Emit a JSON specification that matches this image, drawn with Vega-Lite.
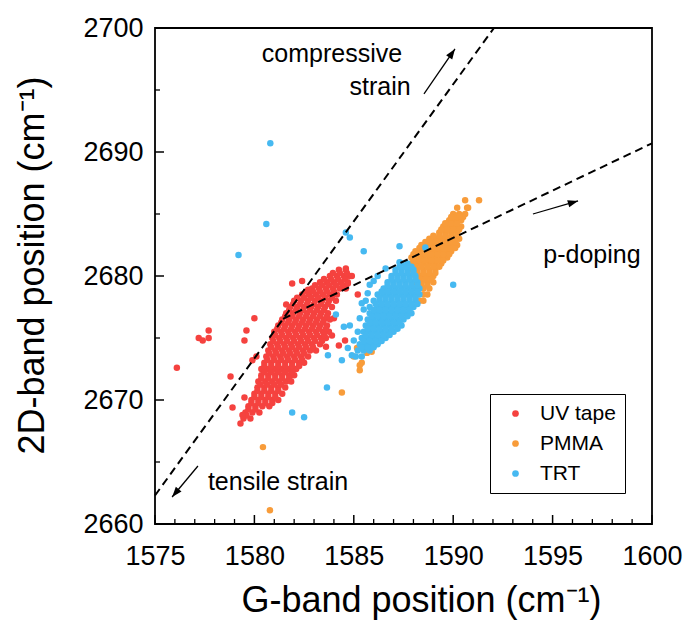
{
  "$schema": "https://vega.github.io/schema/vega-lite/v6.json",
  "width": 497,
  "height": 496,
  "autosize": "none",
  "padding": {"left": 155, "top": 28, "right": 35, "bottom": 98},
  "background": "white",
  "config": {
    "font": "Liberation Sans",
    "view": {"stroke": "black", "strokeWidth": 1.8},
    "axis": {"grid": false}
  },
  "datasets": {
    "pts": [
      {"g":1579.45,"d":2668.5,"s":"UV tape"},{"g":1579.8,"d":2668.5,"s":"UV tape"},
      {"g":1579.55,"d":2669.0,"s":"UV tape"},{"g":1579.9,"d":2669.0,"s":"UV tape"},{"g":1580.25,"d":2669.0,"s":"UV tape"},
      {"g":1579.7,"d":2669.5,"s":"UV tape"},{"g":1580.05,"d":2669.5,"s":"UV tape"},{"g":1580.4,"d":2669.5,"s":"UV tape"},{"g":1580.75,"d":2669.5,"s":"UV tape"},
      {"g":1579.85,"d":2670.0,"s":"UV tape"},{"g":1580.2,"d":2670.0,"s":"UV tape"},{"g":1580.55,"d":2670.0,"s":"UV tape"},{"g":1580.9,"d":2670.0,"s":"UV tape"},{"g":1581.2,"d":2670.0,"s":"UV tape"},
      {"g":1580.0,"d":2670.5,"s":"UV tape"},{"g":1580.35,"d":2670.5,"s":"UV tape"},{"g":1580.7,"d":2670.5,"s":"UV tape"},{"g":1581.05,"d":2670.5,"s":"UV tape"},{"g":1581.4,"d":2670.5,"s":"UV tape"},
      {"g":1580.15,"d":2671.0,"s":"UV tape"},{"g":1580.5,"d":2671.0,"s":"UV tape"},{"g":1580.85,"d":2671.0,"s":"UV tape"},{"g":1581.2,"d":2671.0,"s":"UV tape"},{"g":1581.55,"d":2671.0,"s":"UV tape"},
      {"g":1580.2,"d":2671.5,"s":"UV tape"},{"g":1580.55,"d":2671.5,"s":"UV tape"},{"g":1580.9,"d":2671.5,"s":"UV tape"},{"g":1581.25,"d":2671.5,"s":"UV tape"},{"g":1581.6,"d":2671.5,"s":"UV tape"},{"g":1581.85,"d":2671.5,"s":"UV tape"},
      {"g":1580.35,"d":2672.0,"s":"UV tape"},{"g":1580.7,"d":2672.0,"s":"UV tape"},{"g":1581.05,"d":2672.0,"s":"UV tape"},{"g":1581.4,"d":2672.0,"s":"UV tape"},{"g":1581.75,"d":2672.0,"s":"UV tape"},{"g":1582.0,"d":2672.0,"s":"UV tape"},
      {"g":1580.35,"d":2672.5,"s":"UV tape"},{"g":1580.7,"d":2672.5,"s":"UV tape"},{"g":1581.05,"d":2672.5,"s":"UV tape"},{"g":1581.4,"d":2672.5,"s":"UV tape"},{"g":1581.75,"d":2672.5,"s":"UV tape"},{"g":1582.1,"d":2672.5,"s":"UV tape"},
      {"g":1580.5,"d":2673.0,"s":"UV tape"},{"g":1580.85,"d":2673.0,"s":"UV tape"},{"g":1581.2,"d":2673.0,"s":"UV tape"},{"g":1581.55,"d":2673.0,"s":"UV tape"},{"g":1581.9,"d":2673.0,"s":"UV tape"},{"g":1582.25,"d":2673.0,"s":"UV tape"},{"g":1582.5,"d":2673.0,"s":"UV tape"},
      {"g":1580.6,"d":2673.5,"s":"UV tape"},{"g":1580.95,"d":2673.5,"s":"UV tape"},{"g":1581.3,"d":2673.5,"s":"UV tape"},{"g":1581.65,"d":2673.5,"s":"UV tape"},{"g":1582.0,"d":2673.5,"s":"UV tape"},{"g":1582.35,"d":2673.5,"s":"UV tape"},{"g":1582.7,"d":2673.5,"s":"UV tape"},
      {"g":1580.7,"d":2674.0,"s":"UV tape"},{"g":1581.05,"d":2674.0,"s":"UV tape"},{"g":1581.4,"d":2674.0,"s":"UV tape"},{"g":1581.75,"d":2674.0,"s":"UV tape"},{"g":1582.1,"d":2674.0,"s":"UV tape"},{"g":1582.45,"d":2674.0,"s":"UV tape"},{"g":1582.8,"d":2674.0,"s":"UV tape"},{"g":1583.1,"d":2674.0,"s":"UV tape"},
      {"g":1580.8,"d":2674.5,"s":"UV tape"},{"g":1581.15,"d":2674.5,"s":"UV tape"},{"g":1581.5,"d":2674.5,"s":"UV tape"},{"g":1581.85,"d":2674.5,"s":"UV tape"},{"g":1582.2,"d":2674.5,"s":"UV tape"},{"g":1582.55,"d":2674.5,"s":"UV tape"},{"g":1582.9,"d":2674.5,"s":"UV tape"},{"g":1583.3,"d":2674.5,"s":"UV tape"},
      {"g":1580.9,"d":2675.0,"s":"UV tape"},{"g":1581.25,"d":2675.0,"s":"UV tape"},{"g":1581.6,"d":2675.0,"s":"UV tape"},{"g":1581.95,"d":2675.0,"s":"UV tape"},{"g":1582.3,"d":2675.0,"s":"UV tape"},{"g":1582.65,"d":2675.0,"s":"UV tape"},{"g":1583.0,"d":2675.0,"s":"UV tape"},{"g":1583.35,"d":2675.0,"s":"UV tape"},{"g":1583.6,"d":2675.0,"s":"UV tape"},
      {"g":1581.0,"d":2675.5,"s":"UV tape"},{"g":1581.35,"d":2675.5,"s":"UV tape"},{"g":1581.7,"d":2675.5,"s":"UV tape"},{"g":1582.05,"d":2675.5,"s":"UV tape"},{"g":1582.4,"d":2675.5,"s":"UV tape"},{"g":1582.75,"d":2675.5,"s":"UV tape"},{"g":1583.1,"d":2675.5,"s":"UV tape"},{"g":1583.45,"d":2675.5,"s":"UV tape"},{"g":1583.75,"d":2675.5,"s":"UV tape"},
      {"g":1581.2,"d":2676.0,"s":"UV tape"},{"g":1581.55,"d":2676.0,"s":"UV tape"},{"g":1581.9,"d":2676.0,"s":"UV tape"},{"g":1582.25,"d":2676.0,"s":"UV tape"},{"g":1582.6,"d":2676.0,"s":"UV tape"},{"g":1582.95,"d":2676.0,"s":"UV tape"},{"g":1583.3,"d":2676.0,"s":"UV tape"},{"g":1583.65,"d":2676.0,"s":"UV tape"},
      {"g":1581.4,"d":2676.5,"s":"UV tape"},{"g":1581.75,"d":2676.5,"s":"UV tape"},{"g":1582.1,"d":2676.5,"s":"UV tape"},{"g":1582.45,"d":2676.5,"s":"UV tape"},{"g":1582.8,"d":2676.5,"s":"UV tape"},{"g":1583.15,"d":2676.5,"s":"UV tape"},{"g":1583.5,"d":2676.5,"s":"UV tape"},{"g":1583.8,"d":2676.5,"s":"UV tape"},
      {"g":1581.6,"d":2677.0,"s":"UV tape"},{"g":1581.95,"d":2677.0,"s":"UV tape"},{"g":1582.3,"d":2677.0,"s":"UV tape"},{"g":1582.65,"d":2677.0,"s":"UV tape"},{"g":1583.0,"d":2677.0,"s":"UV tape"},{"g":1583.35,"d":2677.0,"s":"UV tape"},{"g":1583.7,"d":2677.0,"s":"UV tape"},
      {"g":1581.8,"d":2677.5,"s":"UV tape"},{"g":1582.15,"d":2677.5,"s":"UV tape"},{"g":1582.5,"d":2677.5,"s":"UV tape"},{"g":1582.85,"d":2677.5,"s":"UV tape"},{"g":1583.2,"d":2677.5,"s":"UV tape"},{"g":1583.55,"d":2677.5,"s":"UV tape"},{"g":1583.9,"d":2677.5,"s":"UV tape"},
      {"g":1582.0,"d":2678.0,"s":"UV tape"},{"g":1582.35,"d":2678.0,"s":"UV tape"},{"g":1582.7,"d":2678.0,"s":"UV tape"},{"g":1583.05,"d":2678.0,"s":"UV tape"},{"g":1583.4,"d":2678.0,"s":"UV tape"},{"g":1583.75,"d":2678.0,"s":"UV tape"},{"g":1584.1,"d":2678.0,"s":"UV tape"},
      {"g":1582.4,"d":2678.5,"s":"UV tape"},{"g":1582.75,"d":2678.5,"s":"UV tape"},{"g":1583.1,"d":2678.5,"s":"UV tape"},{"g":1583.45,"d":2678.5,"s":"UV tape"},{"g":1583.8,"d":2678.5,"s":"UV tape"},{"g":1584.15,"d":2678.5,"s":"UV tape"},
      {"g":1582.9,"d":2679.0,"s":"UV tape"},{"g":1583.25,"d":2679.0,"s":"UV tape"},{"g":1583.6,"d":2679.0,"s":"UV tape"},{"g":1583.95,"d":2679.0,"s":"UV tape"},{"g":1584.3,"d":2679.0,"s":"UV tape"},{"g":1584.6,"d":2679.0,"s":"UV tape"},
      {"g":1583.3,"d":2679.5,"s":"UV tape"},{"g":1583.65,"d":2679.5,"s":"UV tape"},{"g":1584.0,"d":2679.5,"s":"UV tape"},{"g":1584.35,"d":2679.5,"s":"UV tape"},{"g":1584.7,"d":2679.5,"s":"UV tape"},
      {"g":1583.8,"d":2680.0,"s":"UV tape"},{"g":1584.15,"d":2680.0,"s":"UV tape"},{"g":1584.5,"d":2680.0,"s":"UV tape"},{"g":1584.8,"d":2680.0,"s":"UV tape"},
      {"g":1584.25,"d":2680.5,"s":"UV tape"},{"g":1584.6,"d":2680.5,"s":"UV tape"},
      {"g":1579.6,"d":2668.75,"s":"UV tape"},
      {"g":1579.7,"d":2669.25,"s":"UV tape"},{"g":1580.05,"d":2669.25,"s":"UV tape"},
      {"g":1579.85,"d":2669.75,"s":"UV tape"},{"g":1580.2,"d":2669.75,"s":"UV tape"},{"g":1580.55,"d":2669.75,"s":"UV tape"},{"g":1580.9,"d":2669.75,"s":"UV tape"},
      {"g":1580.0,"d":2670.25,"s":"UV tape"},{"g":1580.35,"d":2670.25,"s":"UV tape"},{"g":1580.7,"d":2670.25,"s":"UV tape"},{"g":1581.05,"d":2670.25,"s":"UV tape"},
      {"g":1580.15,"d":2670.75,"s":"UV tape"},{"g":1580.5,"d":2670.75,"s":"UV tape"},{"g":1580.85,"d":2670.75,"s":"UV tape"},{"g":1581.2,"d":2670.75,"s":"UV tape"},
      {"g":1580.3,"d":2671.25,"s":"UV tape"},{"g":1580.65,"d":2671.25,"s":"UV tape"},{"g":1581.0,"d":2671.25,"s":"UV tape"},{"g":1581.35,"d":2671.25,"s":"UV tape"},
      {"g":1580.35,"d":2671.75,"s":"UV tape"},{"g":1580.7,"d":2671.75,"s":"UV tape"},{"g":1581.05,"d":2671.75,"s":"UV tape"},{"g":1581.4,"d":2671.75,"s":"UV tape"},{"g":1581.75,"d":2671.75,"s":"UV tape"},
      {"g":1580.5,"d":2672.25,"s":"UV tape"},{"g":1580.85,"d":2672.25,"s":"UV tape"},{"g":1581.2,"d":2672.25,"s":"UV tape"},{"g":1581.55,"d":2672.25,"s":"UV tape"},{"g":1581.9,"d":2672.25,"s":"UV tape"},
      {"g":1580.5,"d":2672.75,"s":"UV tape"},{"g":1580.85,"d":2672.75,"s":"UV tape"},{"g":1581.2,"d":2672.75,"s":"UV tape"},{"g":1581.55,"d":2672.75,"s":"UV tape"},{"g":1581.9,"d":2672.75,"s":"UV tape"},{"g":1582.25,"d":2672.75,"s":"UV tape"},
      {"g":1580.65,"d":2673.25,"s":"UV tape"},{"g":1581.0,"d":2673.25,"s":"UV tape"},{"g":1581.35,"d":2673.25,"s":"UV tape"},{"g":1581.7,"d":2673.25,"s":"UV tape"},{"g":1582.05,"d":2673.25,"s":"UV tape"},{"g":1582.4,"d":2673.25,"s":"UV tape"},
      {"g":1580.75,"d":2673.75,"s":"UV tape"},{"g":1581.1,"d":2673.75,"s":"UV tape"},{"g":1581.45,"d":2673.75,"s":"UV tape"},{"g":1581.8,"d":2673.75,"s":"UV tape"},{"g":1582.15,"d":2673.75,"s":"UV tape"},{"g":1582.5,"d":2673.75,"s":"UV tape"},
      {"g":1580.85,"d":2674.25,"s":"UV tape"},{"g":1581.2,"d":2674.25,"s":"UV tape"},{"g":1581.55,"d":2674.25,"s":"UV tape"},{"g":1581.9,"d":2674.25,"s":"UV tape"},{"g":1582.25,"d":2674.25,"s":"UV tape"},{"g":1582.6,"d":2674.25,"s":"UV tape"},{"g":1582.95,"d":2674.25,"s":"UV tape"},
      {"g":1580.95,"d":2674.75,"s":"UV tape"},{"g":1581.3,"d":2674.75,"s":"UV tape"},{"g":1581.65,"d":2674.75,"s":"UV tape"},{"g":1582.0,"d":2674.75,"s":"UV tape"},{"g":1582.35,"d":2674.75,"s":"UV tape"},{"g":1582.7,"d":2674.75,"s":"UV tape"},{"g":1583.05,"d":2674.75,"s":"UV tape"},{"g":1583.4,"d":2674.75,"s":"UV tape"},
      {"g":1581.05,"d":2675.25,"s":"UV tape"},{"g":1581.4,"d":2675.25,"s":"UV tape"},{"g":1581.75,"d":2675.25,"s":"UV tape"},{"g":1582.1,"d":2675.25,"s":"UV tape"},{"g":1582.45,"d":2675.25,"s":"UV tape"},{"g":1582.8,"d":2675.25,"s":"UV tape"},{"g":1583.15,"d":2675.25,"s":"UV tape"},{"g":1583.5,"d":2675.25,"s":"UV tape"},
      {"g":1581.15,"d":2675.75,"s":"UV tape"},{"g":1581.5,"d":2675.75,"s":"UV tape"},{"g":1581.85,"d":2675.75,"s":"UV tape"},{"g":1582.2,"d":2675.75,"s":"UV tape"},{"g":1582.55,"d":2675.75,"s":"UV tape"},{"g":1582.9,"d":2675.75,"s":"UV tape"},{"g":1583.25,"d":2675.75,"s":"UV tape"},{"g":1583.6,"d":2675.75,"s":"UV tape"},
      {"g":1581.35,"d":2676.25,"s":"UV tape"},{"g":1581.7,"d":2676.25,"s":"UV tape"},{"g":1582.05,"d":2676.25,"s":"UV tape"},{"g":1582.4,"d":2676.25,"s":"UV tape"},{"g":1582.75,"d":2676.25,"s":"UV tape"},{"g":1583.1,"d":2676.25,"s":"UV tape"},{"g":1583.45,"d":2676.25,"s":"UV tape"},
      {"g":1581.55,"d":2676.75,"s":"UV tape"},{"g":1581.9,"d":2676.75,"s":"UV tape"},{"g":1582.25,"d":2676.75,"s":"UV tape"},{"g":1582.6,"d":2676.75,"s":"UV tape"},{"g":1582.95,"d":2676.75,"s":"UV tape"},{"g":1583.3,"d":2676.75,"s":"UV tape"},{"g":1583.65,"d":2676.75,"s":"UV tape"},
      {"g":1581.75,"d":2677.25,"s":"UV tape"},{"g":1582.1,"d":2677.25,"s":"UV tape"},{"g":1582.45,"d":2677.25,"s":"UV tape"},{"g":1582.8,"d":2677.25,"s":"UV tape"},{"g":1583.15,"d":2677.25,"s":"UV tape"},{"g":1583.5,"d":2677.25,"s":"UV tape"},
      {"g":1581.95,"d":2677.75,"s":"UV tape"},{"g":1582.3,"d":2677.75,"s":"UV tape"},{"g":1582.65,"d":2677.75,"s":"UV tape"},{"g":1583.0,"d":2677.75,"s":"UV tape"},{"g":1583.35,"d":2677.75,"s":"UV tape"},{"g":1583.7,"d":2677.75,"s":"UV tape"},
      {"g":1582.15,"d":2678.25,"s":"UV tape"},{"g":1582.5,"d":2678.25,"s":"UV tape"},{"g":1582.85,"d":2678.25,"s":"UV tape"},{"g":1583.2,"d":2678.25,"s":"UV tape"},{"g":1583.55,"d":2678.25,"s":"UV tape"},{"g":1583.9,"d":2678.25,"s":"UV tape"},
      {"g":1582.6,"d":2678.75,"s":"UV tape"},{"g":1582.95,"d":2678.75,"s":"UV tape"},{"g":1583.3,"d":2678.75,"s":"UV tape"},{"g":1583.65,"d":2678.75,"s":"UV tape"},{"g":1584.0,"d":2678.75,"s":"UV tape"},
      {"g":1583.05,"d":2679.25,"s":"UV tape"},{"g":1583.4,"d":2679.25,"s":"UV tape"},{"g":1583.75,"d":2679.25,"s":"UV tape"},{"g":1584.1,"d":2679.25,"s":"UV tape"},{"g":1584.45,"d":2679.25,"s":"UV tape"},
      {"g":1583.5,"d":2679.75,"s":"UV tape"},{"g":1583.85,"d":2679.75,"s":"UV tape"},{"g":1584.2,"d":2679.75,"s":"UV tape"},{"g":1584.55,"d":2679.75,"s":"UV tape"},
      {"g":1583.95,"d":2680.25,"s":"UV tape"},{"g":1584.3,"d":2680.25,"s":"UV tape"},{"g":1584.65,"d":2680.25,"s":"UV tape"},
      {"g":1576.1,"d":2672.6,"s":"UV tape"},{"g":1577.2,"d":2675.0,"s":"UV tape"},{"g":1577.4,"d":2674.8,"s":"UV tape"},{"g":1577.7,"d":2675.0,"s":"UV tape"},
      {"g":1577.7,"d":2675.6,"s":"UV tape"},{"g":1578.8,"d":2671.9,"s":"UV tape"},{"g":1578.9,"d":2669.4,"s":"UV tape"},{"g":1579.3,"d":2668.1,"s":"UV tape"},
      {"g":1579.6,"d":2675.6,"s":"UV tape"},{"g":1579.5,"d":2674.8,"s":"UV tape"},{"g":1580.0,"d":2676.6,"s":"UV tape"},{"g":1581.9,"d":2679.4,"s":"UV tape"},
      {"g":1582.4,"d":2679.6,"s":"UV tape"},{"g":1582.7,"d":2678.9,"s":"UV tape"},{"g":1581.6,"d":2677.7,"s":"UV tape"},{"g":1585.2,"d":2678.5,"s":"UV tape"},
      {"g":1584.7,"d":2679.4,"s":"UV tape"},{"g":1583.9,"d":2675.2,"s":"UV tape"},{"g":1584.25,"d":2674.4,"s":"UV tape"},{"g":1584.56,"d":2674.8,"s":"UV tape"},
      {"g":1584.0,"d":2676.6,"s":"UV tape"},{"g":1580.1,"d":2673.5,"s":"UV tape"},{"g":1579.9,"d":2673.2,"s":"UV tape"},{"g":1579.5,"d":2670.2,"s":"UV tape"},
      {"g":1579.4,"d":2668.8,"s":"UV tape"},{"g":1583.6,"d":2674.3,"s":"UV tape"},{"g":1584.9,"d":2680.0,"s":"UV tape"},{"g":1584.6,"d":2680.6,"s":"UV tape"},

      {"g":1588.3,"d":2678.0,"s":"PMMA"},{"g":1588.5,"d":2678.0,"s":"PMMA"},
      {"g":1588.2,"d":2678.5,"s":"PMMA"},{"g":1588.5,"d":2678.5,"s":"PMMA"},{"g":1588.7,"d":2678.5,"s":"PMMA"},
      {"g":1588.2,"d":2679.0,"s":"PMMA"},{"g":1588.5,"d":2679.0,"s":"PMMA"},{"g":1588.8,"d":2679.0,"s":"PMMA"},
      {"g":1588.1,"d":2679.5,"s":"PMMA"},{"g":1588.4,"d":2679.5,"s":"PMMA"},{"g":1588.7,"d":2679.5,"s":"PMMA"},{"g":1589.0,"d":2679.5,"s":"PMMA"},
      {"g":1588.1,"d":2680.0,"s":"PMMA"},{"g":1588.4,"d":2680.0,"s":"PMMA"},{"g":1588.7,"d":2680.0,"s":"PMMA"},{"g":1589.0,"d":2680.0,"s":"PMMA"},
      {"g":1587.9,"d":2680.5,"s":"PMMA"},{"g":1588.2,"d":2680.5,"s":"PMMA"},{"g":1588.5,"d":2680.5,"s":"PMMA"},{"g":1588.8,"d":2680.5,"s":"PMMA"},{"g":1589.1,"d":2680.5,"s":"PMMA"},
      {"g":1587.9,"d":2681.0,"s":"PMMA"},{"g":1588.2,"d":2681.0,"s":"PMMA"},{"g":1588.5,"d":2681.0,"s":"PMMA"},{"g":1588.8,"d":2681.0,"s":"PMMA"},{"g":1589.1,"d":2681.0,"s":"PMMA"},{"g":1589.4,"d":2681.0,"s":"PMMA"},
      {"g":1587.9,"d":2681.5,"s":"PMMA"},{"g":1588.2,"d":2681.5,"s":"PMMA"},{"g":1588.5,"d":2681.5,"s":"PMMA"},{"g":1588.8,"d":2681.5,"s":"PMMA"},{"g":1589.1,"d":2681.5,"s":"PMMA"},{"g":1589.4,"d":2681.5,"s":"PMMA"},{"g":1589.7,"d":2681.5,"s":"PMMA"},
      {"g":1588.1,"d":2682.0,"s":"PMMA"},{"g":1588.4,"d":2682.0,"s":"PMMA"},{"g":1588.7,"d":2682.0,"s":"PMMA"},{"g":1589.0,"d":2682.0,"s":"PMMA"},{"g":1589.3,"d":2682.0,"s":"PMMA"},{"g":1589.6,"d":2682.0,"s":"PMMA"},{"g":1589.9,"d":2682.0,"s":"PMMA"},
      {"g":1588.4,"d":2682.5,"s":"PMMA"},{"g":1588.7,"d":2682.5,"s":"PMMA"},{"g":1589.0,"d":2682.5,"s":"PMMA"},{"g":1589.3,"d":2682.5,"s":"PMMA"},{"g":1589.6,"d":2682.5,"s":"PMMA"},{"g":1589.9,"d":2682.5,"s":"PMMA"},{"g":1590.2,"d":2682.5,"s":"PMMA"},
      {"g":1588.8,"d":2683.0,"s":"PMMA"},{"g":1589.1,"d":2683.0,"s":"PMMA"},{"g":1589.4,"d":2683.0,"s":"PMMA"},{"g":1589.7,"d":2683.0,"s":"PMMA"},{"g":1590.0,"d":2683.0,"s":"PMMA"},{"g":1590.3,"d":2683.0,"s":"PMMA"},
      {"g":1589.3,"d":2683.5,"s":"PMMA"},{"g":1589.6,"d":2683.5,"s":"PMMA"},{"g":1589.9,"d":2683.5,"s":"PMMA"},{"g":1590.2,"d":2683.5,"s":"PMMA"},
      {"g":1589.5,"d":2684.0,"s":"PMMA"},{"g":1589.8,"d":2684.0,"s":"PMMA"},{"g":1590.1,"d":2684.0,"s":"PMMA"},{"g":1590.4,"d":2684.0,"s":"PMMA"},
      {"g":1589.8,"d":2684.5,"s":"PMMA"},{"g":1590.1,"d":2684.5,"s":"PMMA"},{"g":1590.4,"d":2684.5,"s":"PMMA"},
      {"g":1590.0,"d":2685.0,"s":"PMMA"},{"g":1590.3,"d":2685.0,"s":"PMMA"},{"g":1590.6,"d":2685.0,"s":"PMMA"},
      {"g":1590.2,"d":2685.5,"s":"PMMA"},{"g":1590.7,"d":2685.5,"s":"PMMA"},
      {"g":1590.6,"d":2686.1,"s":"PMMA"},{"g":1591.3,"d":2686.1,"s":"PMMA"},
      {"g":1588.4,"d":2679.25,"s":"PMMA"},{"g":1588.7,"d":2679.25,"s":"PMMA"},
      {"g":1588.3,"d":2679.75,"s":"PMMA"},{"g":1588.6,"d":2679.75,"s":"PMMA"},{"g":1588.9,"d":2679.75,"s":"PMMA"},
      {"g":1588.2,"d":2680.25,"s":"PMMA"},{"g":1588.5,"d":2680.25,"s":"PMMA"},{"g":1588.8,"d":2680.25,"s":"PMMA"},{"g":1589.1,"d":2680.25,"s":"PMMA"},
      {"g":1588.1,"d":2680.75,"s":"PMMA"},{"g":1588.4,"d":2680.75,"s":"PMMA"},{"g":1588.7,"d":2680.75,"s":"PMMA"},{"g":1589.0,"d":2680.75,"s":"PMMA"},{"g":1589.3,"d":2680.75,"s":"PMMA"},
      {"g":1588.0,"d":2681.25,"s":"PMMA"},{"g":1588.3,"d":2681.25,"s":"PMMA"},{"g":1588.6,"d":2681.25,"s":"PMMA"},{"g":1588.9,"d":2681.25,"s":"PMMA"},{"g":1589.2,"d":2681.25,"s":"PMMA"},{"g":1589.5,"d":2681.25,"s":"PMMA"},
      {"g":1588.0,"d":2681.75,"s":"PMMA"},{"g":1588.3,"d":2681.75,"s":"PMMA"},{"g":1588.6,"d":2681.75,"s":"PMMA"},{"g":1588.9,"d":2681.75,"s":"PMMA"},{"g":1589.2,"d":2681.75,"s":"PMMA"},{"g":1589.5,"d":2681.75,"s":"PMMA"},{"g":1589.8,"d":2681.75,"s":"PMMA"},
      {"g":1588.3,"d":2682.25,"s":"PMMA"},{"g":1588.6,"d":2682.25,"s":"PMMA"},{"g":1588.9,"d":2682.25,"s":"PMMA"},{"g":1589.2,"d":2682.25,"s":"PMMA"},{"g":1589.5,"d":2682.25,"s":"PMMA"},{"g":1589.8,"d":2682.25,"s":"PMMA"},{"g":1590.1,"d":2682.25,"s":"PMMA"},
      {"g":1588.6,"d":2682.75,"s":"PMMA"},{"g":1588.9,"d":2682.75,"s":"PMMA"},{"g":1589.2,"d":2682.75,"s":"PMMA"},{"g":1589.5,"d":2682.75,"s":"PMMA"},{"g":1589.8,"d":2682.75,"s":"PMMA"},{"g":1590.1,"d":2682.75,"s":"PMMA"},
      {"g":1589.0,"d":2683.25,"s":"PMMA"},{"g":1589.3,"d":2683.25,"s":"PMMA"},{"g":1589.6,"d":2683.25,"s":"PMMA"},{"g":1589.9,"d":2683.25,"s":"PMMA"},{"g":1590.2,"d":2683.25,"s":"PMMA"},
      {"g":1589.4,"d":2683.75,"s":"PMMA"},{"g":1589.7,"d":2683.75,"s":"PMMA"},{"g":1590.0,"d":2683.75,"s":"PMMA"},{"g":1590.3,"d":2683.75,"s":"PMMA"},
      {"g":1589.6,"d":2684.25,"s":"PMMA"},{"g":1589.9,"d":2684.25,"s":"PMMA"},{"g":1590.2,"d":2684.25,"s":"PMMA"},
      {"g":1589.9,"d":2684.75,"s":"PMMA"},{"g":1590.2,"d":2684.75,"s":"PMMA"},{"g":1590.5,"d":2684.75,"s":"PMMA"},
      {"g":1590.75,"d":2685.5,"s":"PMMA"},{"g":1590.3,"d":2684.8,"s":"PMMA"},
      {"g":1585.9,"d":2673.9,"s":"PMMA"},{"g":1585.66,"d":2673.8,"s":"PMMA"},{"g":1585.4,"d":2673.0,"s":"PMMA"},{"g":1585.0,"d":2673.5,"s":"PMMA"},
      {"g":1585.16,"d":2674.2,"s":"PMMA"},{"g":1585.3,"d":2672.8,"s":"PMMA"},{"g":1585.3,"d":2672.4,"s":"PMMA"},{"g":1584.4,"d":2670.6,"s":"PMMA"},
      {"g":1580.43,"d":2666.2,"s":"PMMA"},{"g":1580.78,"d":2661.1,"s":"PMMA"},

      {"g":1585.1,"d":2673.5,"s":"TRT"},{"g":1585.4,"d":2673.5,"s":"TRT"},
      {"g":1585.2,"d":2674.0,"s":"TRT"},{"g":1585.5,"d":2674.0,"s":"TRT"},{"g":1585.8,"d":2674.0,"s":"TRT"},
      {"g":1585.3,"d":2674.5,"s":"TRT"},{"g":1585.6,"d":2674.5,"s":"TRT"},{"g":1585.9,"d":2674.5,"s":"TRT"},{"g":1586.2,"d":2674.5,"s":"TRT"},
      {"g":1585.4,"d":2675.0,"s":"TRT"},{"g":1585.7,"d":2675.0,"s":"TRT"},{"g":1586.0,"d":2675.0,"s":"TRT"},{"g":1586.3,"d":2675.0,"s":"TRT"},{"g":1586.6,"d":2675.0,"s":"TRT"},
      {"g":1585.5,"d":2675.5,"s":"TRT"},{"g":1585.8,"d":2675.5,"s":"TRT"},{"g":1586.1,"d":2675.5,"s":"TRT"},{"g":1586.4,"d":2675.5,"s":"TRT"},{"g":1586.7,"d":2675.5,"s":"TRT"},{"g":1587.0,"d":2675.5,"s":"TRT"},
      {"g":1585.6,"d":2676.0,"s":"TRT"},{"g":1585.9,"d":2676.0,"s":"TRT"},{"g":1586.2,"d":2676.0,"s":"TRT"},{"g":1586.5,"d":2676.0,"s":"TRT"},{"g":1586.8,"d":2676.0,"s":"TRT"},{"g":1587.1,"d":2676.0,"s":"TRT"},{"g":1587.4,"d":2676.0,"s":"TRT"},
      {"g":1585.7,"d":2676.5,"s":"TRT"},{"g":1586.0,"d":2676.5,"s":"TRT"},{"g":1586.3,"d":2676.5,"s":"TRT"},{"g":1586.6,"d":2676.5,"s":"TRT"},{"g":1586.9,"d":2676.5,"s":"TRT"},{"g":1587.2,"d":2676.5,"s":"TRT"},{"g":1587.5,"d":2676.5,"s":"TRT"},
      {"g":1585.8,"d":2677.0,"s":"TRT"},{"g":1586.1,"d":2677.0,"s":"TRT"},{"g":1586.4,"d":2677.0,"s":"TRT"},{"g":1586.7,"d":2677.0,"s":"TRT"},{"g":1587.0,"d":2677.0,"s":"TRT"},{"g":1587.3,"d":2677.0,"s":"TRT"},{"g":1587.6,"d":2677.0,"s":"TRT"},{"g":1587.9,"d":2677.0,"s":"TRT"},
      {"g":1585.8,"d":2677.5,"s":"TRT"},{"g":1586.2,"d":2677.5,"s":"TRT"},{"g":1586.5,"d":2677.5,"s":"TRT"},{"g":1586.8,"d":2677.5,"s":"TRT"},{"g":1587.1,"d":2677.5,"s":"TRT"},{"g":1587.4,"d":2677.5,"s":"TRT"},{"g":1587.7,"d":2677.5,"s":"TRT"},{"g":1588.0,"d":2677.5,"s":"TRT"},
      {"g":1586.0,"d":2678.0,"s":"TRT"},{"g":1586.3,"d":2678.0,"s":"TRT"},{"g":1586.6,"d":2678.0,"s":"TRT"},{"g":1586.9,"d":2678.0,"s":"TRT"},{"g":1587.2,"d":2678.0,"s":"TRT"},{"g":1587.5,"d":2678.0,"s":"TRT"},{"g":1587.8,"d":2678.0,"s":"TRT"},{"g":1588.1,"d":2678.0,"s":"TRT"},
      {"g":1586.2,"d":2678.5,"s":"TRT"},{"g":1586.5,"d":2678.5,"s":"TRT"},{"g":1586.8,"d":2678.5,"s":"TRT"},{"g":1587.1,"d":2678.5,"s":"TRT"},{"g":1587.4,"d":2678.5,"s":"TRT"},{"g":1587.7,"d":2678.5,"s":"TRT"},{"g":1588.0,"d":2678.5,"s":"TRT"},{"g":1588.3,"d":2678.5,"s":"TRT"},
      {"g":1586.5,"d":2679.0,"s":"TRT"},{"g":1586.8,"d":2679.0,"s":"TRT"},{"g":1587.1,"d":2679.0,"s":"TRT"},{"g":1587.4,"d":2679.0,"s":"TRT"},{"g":1587.7,"d":2679.0,"s":"TRT"},{"g":1588.0,"d":2679.0,"s":"TRT"},{"g":1588.3,"d":2679.0,"s":"TRT"},
      {"g":1586.7,"d":2679.5,"s":"TRT"},{"g":1587.0,"d":2679.5,"s":"TRT"},{"g":1587.3,"d":2679.5,"s":"TRT"},{"g":1587.6,"d":2679.5,"s":"TRT"},{"g":1587.9,"d":2679.5,"s":"TRT"},{"g":1588.2,"d":2679.5,"s":"TRT"},
      {"g":1586.9,"d":2680.0,"s":"TRT"},{"g":1587.2,"d":2680.0,"s":"TRT"},{"g":1587.5,"d":2680.0,"s":"TRT"},{"g":1587.8,"d":2680.0,"s":"TRT"},{"g":1588.1,"d":2680.0,"s":"TRT"},
      {"g":1587.1,"d":2680.5,"s":"TRT"},{"g":1587.4,"d":2680.5,"s":"TRT"},{"g":1587.7,"d":2680.5,"s":"TRT"},{"g":1588.0,"d":2680.5,"s":"TRT"},
      {"g":1587.4,"d":2681.0,"s":"TRT"},{"g":1587.7,"d":2681.0,"s":"TRT"},
      {"g":1585.4,"d":2674.25,"s":"TRT"},{"g":1585.7,"d":2674.25,"s":"TRT"},{"g":1586.0,"d":2674.25,"s":"TRT"},
      {"g":1585.5,"d":2674.75,"s":"TRT"},{"g":1585.8,"d":2674.75,"s":"TRT"},{"g":1586.1,"d":2674.75,"s":"TRT"},{"g":1586.4,"d":2674.75,"s":"TRT"},
      {"g":1585.6,"d":2675.25,"s":"TRT"},{"g":1585.9,"d":2675.25,"s":"TRT"},{"g":1586.2,"d":2675.25,"s":"TRT"},{"g":1586.5,"d":2675.25,"s":"TRT"},{"g":1586.8,"d":2675.25,"s":"TRT"},
      {"g":1585.7,"d":2675.75,"s":"TRT"},{"g":1586.0,"d":2675.75,"s":"TRT"},{"g":1586.3,"d":2675.75,"s":"TRT"},{"g":1586.6,"d":2675.75,"s":"TRT"},{"g":1586.9,"d":2675.75,"s":"TRT"},{"g":1587.2,"d":2675.75,"s":"TRT"},
      {"g":1585.8,"d":2676.25,"s":"TRT"},{"g":1586.1,"d":2676.25,"s":"TRT"},{"g":1586.4,"d":2676.25,"s":"TRT"},{"g":1586.7,"d":2676.25,"s":"TRT"},{"g":1587.0,"d":2676.25,"s":"TRT"},{"g":1587.3,"d":2676.25,"s":"TRT"},
      {"g":1585.9,"d":2676.75,"s":"TRT"},{"g":1586.2,"d":2676.75,"s":"TRT"},{"g":1586.5,"d":2676.75,"s":"TRT"},{"g":1586.8,"d":2676.75,"s":"TRT"},{"g":1587.1,"d":2676.75,"s":"TRT"},{"g":1587.4,"d":2676.75,"s":"TRT"},{"g":1587.7,"d":2676.75,"s":"TRT"},
      {"g":1586.0,"d":2677.25,"s":"TRT"},{"g":1586.3,"d":2677.25,"s":"TRT"},{"g":1586.6,"d":2677.25,"s":"TRT"},{"g":1586.9,"d":2677.25,"s":"TRT"},{"g":1587.2,"d":2677.25,"s":"TRT"},{"g":1587.5,"d":2677.25,"s":"TRT"},{"g":1587.8,"d":2677.25,"s":"TRT"},
      {"g":1586.1,"d":2677.75,"s":"TRT"},{"g":1586.4,"d":2677.75,"s":"TRT"},{"g":1586.7,"d":2677.75,"s":"TRT"},{"g":1587.0,"d":2677.75,"s":"TRT"},{"g":1587.3,"d":2677.75,"s":"TRT"},{"g":1587.6,"d":2677.75,"s":"TRT"},{"g":1587.9,"d":2677.75,"s":"TRT"},{"g":1588.2,"d":2677.75,"s":"TRT"},
      {"g":1586.3,"d":2678.25,"s":"TRT"},{"g":1586.6,"d":2678.25,"s":"TRT"},{"g":1586.9,"d":2678.25,"s":"TRT"},{"g":1587.2,"d":2678.25,"s":"TRT"},{"g":1587.5,"d":2678.25,"s":"TRT"},{"g":1587.8,"d":2678.25,"s":"TRT"},{"g":1588.1,"d":2678.25,"s":"TRT"},
      {"g":1586.4,"d":2678.75,"s":"TRT"},{"g":1586.7,"d":2678.75,"s":"TRT"},{"g":1587.0,"d":2678.75,"s":"TRT"},{"g":1587.3,"d":2678.75,"s":"TRT"},{"g":1587.6,"d":2678.75,"s":"TRT"},{"g":1587.9,"d":2678.75,"s":"TRT"},{"g":1588.2,"d":2678.75,"s":"TRT"},
      {"g":1586.7,"d":2679.25,"s":"TRT"},{"g":1587.0,"d":2679.25,"s":"TRT"},{"g":1587.3,"d":2679.25,"s":"TRT"},{"g":1587.6,"d":2679.25,"s":"TRT"},{"g":1587.9,"d":2679.25,"s":"TRT"},{"g":1588.2,"d":2679.25,"s":"TRT"},
      {"g":1586.9,"d":2679.75,"s":"TRT"},{"g":1587.2,"d":2679.75,"s":"TRT"},{"g":1587.5,"d":2679.75,"s":"TRT"},{"g":1587.8,"d":2679.75,"s":"TRT"},{"g":1588.1,"d":2679.75,"s":"TRT"},
      {"g":1587.1,"d":2680.25,"s":"TRT"},{"g":1587.4,"d":2680.25,"s":"TRT"},{"g":1587.7,"d":2680.25,"s":"TRT"},{"g":1588.0,"d":2680.25,"s":"TRT"},
      {"g":1587.3,"d":2680.75,"s":"TRT"},{"g":1587.6,"d":2680.75,"s":"TRT"},{"g":1587.9,"d":2680.75,"s":"TRT"},
      {"g":1585.6,"d":2678.0,"s":"TRT"},{"g":1585.7,"d":2678.6,"s":"TRT"},{"g":1585.4,"d":2677.8,"s":"TRT"},{"g":1586.0,"d":2679.6,"s":"TRT"},{"g":1586.2,"d":2680.0,"s":"TRT"},
      {"g":1580.8,"d":2690.7,"s":"TRT"},{"g":1580.6,"d":2684.2,"s":"TRT"},{"g":1579.2,"d":2681.7,"s":"TRT"},{"g":1584.6,"d":2683.5,"s":"TRT"},
      {"g":1584.8,"d":2683.1,"s":"TRT"},{"g":1585.5,"d":2682.0,"s":"TRT"},{"g":1587.3,"d":2682.4,"s":"TRT"},{"g":1588.6,"d":2682.3,"s":"TRT"},
      {"g":1590.0,"d":2679.3,"s":"TRT"},{"g":1586.6,"d":2680.6,"s":"TRT"},{"g":1587.3,"d":2681.1,"s":"TRT"},{"g":1585.8,"d":2679.3,"s":"TRT"},
      {"g":1585.5,"d":2677.3,"s":"TRT"},{"g":1585.3,"d":2676.6,"s":"TRT"},{"g":1584.1,"d":2676.9,"s":"TRT"},{"g":1584.5,"d":2675.9,"s":"TRT"},
      {"g":1584.8,"d":2676.0,"s":"TRT"},{"g":1583.7,"d":2673.6,"s":"TRT"},{"g":1584.4,"d":2673.2,"s":"TRT"},{"g":1584.7,"d":2674.2,"s":"TRT"},
      {"g":1584.9,"d":2673.6,"s":"TRT"},{"g":1583.65,"d":2671.0,"s":"TRT"},{"g":1581.9,"d":2669.0,"s":"TRT"},{"g":1582.5,"d":2668.6,"s":"TRT"},
      {"g":1585.0,"d":2674.8,"s":"TRT"},{"g":1585.2,"d":2675.5,"s":"TRT"}
    ],
    "lines": [
      {"line": "strain", "g": 1575.0, "d": 2662.3},
      {"line": "strain", "g": 1592.05, "d": 2700.0},
      {"line": "pdoping", "g": 1581.44, "d": 2676.55},
      {"line": "pdoping", "g": 1600.0, "d": 2690.7}
    ],
    "arrows": [
      {"arrow": "compressive", "end": "tail", "g": 1588.53, "d": 2694.68},
      {"arrow": "compressive", "end": "tip", "g": 1590.09, "d": 2698.31},
      {"arrow": "pdoping", "end": "tail", "g": 1594.01, "d": 2685.0},
      {"arrow": "pdoping", "end": "tip", "g": 1596.28, "d": 2686.05},
      {"arrow": "tensile", "end": "tail", "g": 1577.16, "d": 2664.68},
      {"arrow": "tensile", "end": "tip", "g": 1575.86, "d": 2662.18}
    ],
    "labels": [
      {"g": 1583.9, "d": 2697.26, "text": "compressive"},
      {"g": 1586.32, "d": 2694.6, "text": "strain"},
      {"g": 1596.98, "d": 2681.05, "text": "p-doping"},
      {"g": 1581.19, "d": 2662.74, "text": "tensile strain"}
    ],
    "xticks": [
      {"v":1575,"at":2660,"kind":"major"},{"v":1576,"at":2660,"kind":"minor"},{"v":1577,"at":2660,"kind":"minor"},{"v":1578,"at":2660,"kind":"minor"},{"v":1579,"at":2660,"kind":"minor"},
      {"v":1580,"at":2660,"kind":"major"},{"v":1581,"at":2660,"kind":"minor"},{"v":1582,"at":2660,"kind":"minor"},{"v":1583,"at":2660,"kind":"minor"},{"v":1584,"at":2660,"kind":"minor"},
      {"v":1585,"at":2660,"kind":"major"},{"v":1586,"at":2660,"kind":"minor"},{"v":1587,"at":2660,"kind":"minor"},{"v":1588,"at":2660,"kind":"minor"},{"v":1589,"at":2660,"kind":"minor"},
      {"v":1590,"at":2660,"kind":"major"},{"v":1591,"at":2660,"kind":"minor"},{"v":1592,"at":2660,"kind":"minor"},{"v":1593,"at":2660,"kind":"minor"},{"v":1594,"at":2660,"kind":"minor"},
      {"v":1595,"at":2660,"kind":"major"},{"v":1596,"at":2660,"kind":"minor"},{"v":1597,"at":2660,"kind":"minor"},{"v":1598,"at":2660,"kind":"minor"},{"v":1599,"at":2660,"kind":"minor"},
      {"v":1600,"at":2660,"kind":"major"}
    ],
    "yticks": [
      {"v":2660,"at":1575,"kind":"major"},{"v":2665,"at":1575,"kind":"minor"},{"v":2670,"at":1575,"kind":"major"},{"v":2675,"at":1575,"kind":"minor"},{"v":2680,"at":1575,"kind":"major"},
      {"v":2685,"at":1575,"kind":"minor"},{"v":2690,"at":1575,"kind":"major"},{"v":2695,"at":1575,"kind":"minor"},{"v":2700,"at":1575,"kind":"major"}
    ]
  },
  "resolve": {"axis": {"x": "independent", "y": "independent"}},
  "layer": [
    {
      "data": {"name": "pts"},
      "mark": {"type": "circle", "size": 42, "opacity": 1},
      "encoding": {
        "x": {"field": "g", "type": "quantitative",
          "scale": {"domain": [1575, 1600], "nice": false, "zero": false},
          "axis": {"orient": "bottom",
            "values": [1575, 1580, 1585, 1590, 1595, 1600], "format": "d",
            "ticks": false, "domain": false,
            "labelFontSize": 27, "labelColor": "black", "labelPadding": 19, "labelFlush": false, "labelOverlap": false,
            "title": "G-band position (cm⁻¹)", "titleFontSize": 36, "titleFontWeight": "normal", "titleColor": "black",
            "titleX": 266, "titleY": 87, "titleBaseline": "alphabetic", "titleAlign": "center"}},
        "y": {"field": "d", "type": "quantitative",
          "scale": {"domain": [2660, 2700], "nice": false, "zero": false},
          "axis": {"orient": "left",
            "values": [2660, 2670, 2680, 2690, 2700], "format": "d",
            "ticks": false, "domain": false,
            "labelFontSize": 27, "labelColor": "black", "labelPadding": 12, "labelFlush": false, "labelOverlap": false,
            "title": "2D-band position (cm⁻¹)", "titleFontSize": 36, "titleFontWeight": "normal", "titleColor": "black",
            "titleX": -112, "titleY": 237, "titleBaseline": "alphabetic", "titleAlign": "center", "titleAngle": 270}},
        "color": {"field": "s", "type": "nominal",
          "scale": {"domain": ["UV tape", "PMMA", "TRT"], "range": ["#f5423f", "#f89c3a", "#46b9f1"]},
          "legend": {"title": null, "orient": "none", "legendX": 335, "legendY": 366,
            "strokeColor": "black", "fillColor": "white", "padding": 9,
            "symbolType": "circle", "symbolSize": 45, "symbolStrokeWidth": 0, "symbolOffset": 6,
            "labelFontSize": 21, "labelColor": "black", "labelOffset": 14, "rowPadding": 8}}
      }
    },
    {
      "data": {"name": "xticks"},
      "transform": [{"filter": "datum.kind === 'major'"}],
      "mark": {"type": "tick", "orient": "vertical", "size": 9, "thickness": 1.5, "color": "black", "opacity": 1, "yOffset": -4.5},
      "encoding": {
        "x": {"field": "v", "type": "quantitative", "scale": {"domain": [1575, 1600], "nice": false, "zero": false}, "axis": null},
        "y": {"field": "at", "type": "quantitative", "scale": {"domain": [2660, 2700], "nice": false, "zero": false}, "axis": null}
      }
    },
    {
      "data": {"name": "xticks"},
      "transform": [{"filter": "datum.kind === 'minor'"}],
      "mark": {"type": "tick", "orient": "vertical", "size": 5, "thickness": 1.3, "color": "black", "opacity": 1, "yOffset": -2.5},
      "encoding": {
        "x": {"field": "v", "type": "quantitative", "scale": {"domain": [1575, 1600], "nice": false, "zero": false}, "axis": null},
        "y": {"field": "at", "type": "quantitative", "scale": {"domain": [2660, 2700], "nice": false, "zero": false}, "axis": null}
      }
    },
    {
      "data": {"name": "yticks"},
      "transform": [{"filter": "datum.kind === 'major'"}],
      "mark": {"type": "tick", "orient": "horizontal", "size": 9, "thickness": 1.5, "color": "black", "opacity": 1, "xOffset": 4.5},
      "encoding": {
        "y": {"field": "v", "type": "quantitative", "scale": {"domain": [2660, 2700], "nice": false, "zero": false}, "axis": null},
        "x": {"field": "at", "type": "quantitative", "scale": {"domain": [1575, 1600], "nice": false, "zero": false}, "axis": null}
      }
    },
    {
      "data": {"name": "yticks"},
      "transform": [{"filter": "datum.kind === 'minor'"}],
      "mark": {"type": "tick", "orient": "horizontal", "size": 5, "thickness": 1.3, "color": "black", "opacity": 1, "xOffset": 2.5},
      "encoding": {
        "y": {"field": "v", "type": "quantitative", "scale": {"domain": [2660, 2700], "nice": false, "zero": false}, "axis": null},
        "x": {"field": "at", "type": "quantitative", "scale": {"domain": [1575, 1600], "nice": false, "zero": false}, "axis": null}
      }
    },
    {
      "data": {"name": "lines"},
      "mark": {"type": "line", "color": "black", "strokeWidth": 2, "strokeDash": [8, 5]},
      "encoding": {
        "x": {"field": "g", "type": "quantitative", "scale": {"domain": [1575, 1600], "nice": false, "zero": false}, "axis": null},
        "y": {"field": "d", "type": "quantitative", "scale": {"domain": [2660, 2700], "nice": false, "zero": false}, "axis": null},
        "detail": {"field": "line", "type": "nominal"}
      }
    },
    {
      "data": {"name": "arrows"},
      "mark": {"type": "line", "color": "black", "strokeWidth": 1.3},
      "encoding": {
        "x": {"field": "g", "type": "quantitative", "scale": {"domain": [1575, 1600], "nice": false, "zero": false}, "axis": null},
        "y": {"field": "d", "type": "quantitative", "scale": {"domain": [2660, 2700], "nice": false, "zero": false}, "axis": null},
        "detail": {"field": "arrow", "type": "nominal"}
      }
    },
    {
      "data": {"name": "arrows"},
      "transform": [{"filter": "datum.end === 'tip' && datum.arrow === 'compressive'"}],
      "mark": {"type": "point", "shape": "M0,0L0.36,1L-0.36,1Z", "size": 420, "filled": true, "color": "black", "opacity": 1, "strokeWidth": 0, "angle": 34.6},
      "encoding": {
        "x": {"field": "g", "type": "quantitative", "scale": {"domain": [1575, 1600], "nice": false, "zero": false}, "axis": null},
        "y": {"field": "d", "type": "quantitative", "scale": {"domain": [2660, 2700], "nice": false, "zero": false}, "axis": null}
      }
    },
    {
      "data": {"name": "arrows"},
      "transform": [{"filter": "datum.end === 'tip' && datum.arrow === 'pdoping'"}],
      "mark": {"type": "point", "shape": "M0,0L0.36,1L-0.36,1Z", "size": 420, "filled": true, "color": "black", "opacity": 1, "strokeWidth": 0, "angle": 73.9},
      "encoding": {
        "x": {"field": "g", "type": "quantitative", "scale": {"domain": [1575, 1600], "nice": false, "zero": false}, "axis": null},
        "y": {"field": "d", "type": "quantitative", "scale": {"domain": [2660, 2700], "nice": false, "zero": false}, "axis": null}
      }
    },
    {
      "data": {"name": "arrows"},
      "transform": [{"filter": "datum.end === 'tip' && datum.arrow === 'tensile'"}],
      "mark": {"type": "point", "shape": "M0,0L0.36,1L-0.36,1Z", "size": 420, "filled": true, "color": "black", "opacity": 1, "strokeWidth": 0, "angle": 220},
      "encoding": {
        "x": {"field": "g", "type": "quantitative", "scale": {"domain": [1575, 1600], "nice": false, "zero": false}, "axis": null},
        "y": {"field": "d", "type": "quantitative", "scale": {"domain": [2660, 2700], "nice": false, "zero": false}, "axis": null}
      }
    },
    {
      "data": {"name": "labels"},
      "mark": {"type": "text", "fontSize": 25, "align": "center", "baseline": "alphabetic", "color": "black"},
      "encoding": {
        "x": {"field": "g", "type": "quantitative", "scale": {"domain": [1575, 1600], "nice": false, "zero": false}, "axis": null},
        "y": {"field": "d", "type": "quantitative", "scale": {"domain": [2660, 2700], "nice": false, "zero": false}, "axis": null},
        "text": {"field": "text", "type": "nominal"}
      }
    }
  ]
}
